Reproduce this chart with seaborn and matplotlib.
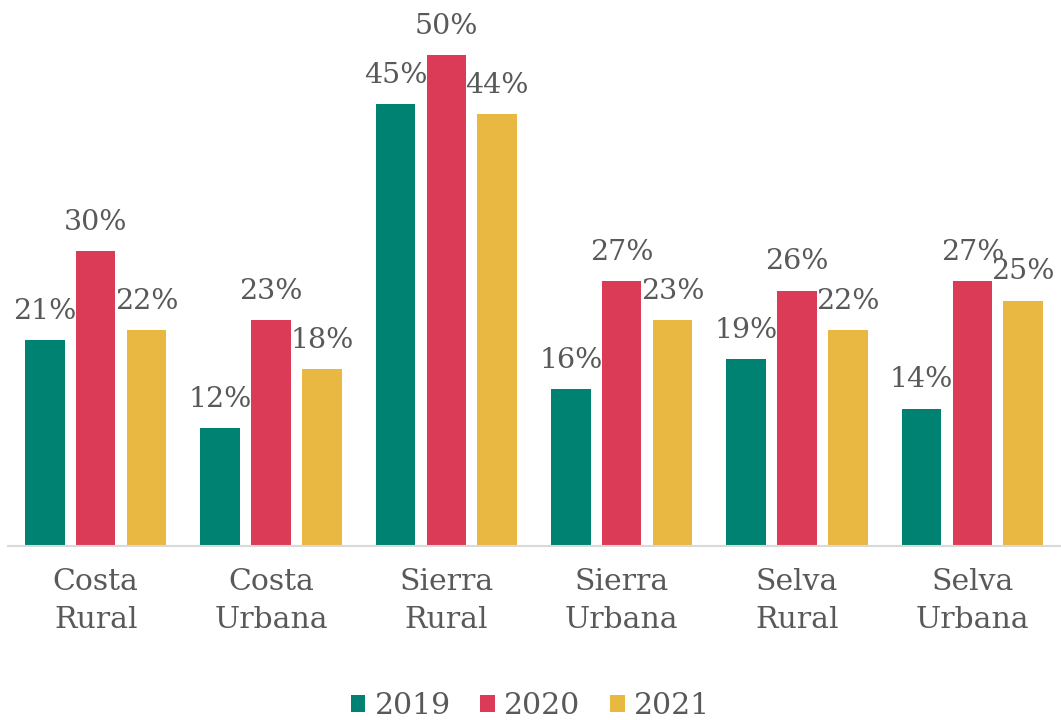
import matplotlib
matplotlib.use("Agg")
import matplotlib.pyplot as plt
import seaborn as sns
import pandas as pd
from matplotlib.patches import Patch

categories = ["Costa\nRural", "Costa\nUrbana", "Sierra\nRural", "Sierra\nUrbana", "Selva\nRural", "Selva\nUrbana"]
years = ["2019", "2020", "2021"]
v2019 = [0.21, 0.12, 0.45, 0.16, 0.19, 0.14]
v2020 = [0.30, 0.23, 0.50, 0.27, 0.26, 0.27]
v2021 = [0.22, 0.18, 0.44, 0.23, 0.22, 0.25]
colors = ["#008272", "#DC3B58", "#E8B843"]

rows = []
for yr, vals in zip(years, [v2019, v2020, v2021]):
    for c, v in zip(categories, vals):
        rows.append({"cat": c, "year": yr, "val": v})
df = pd.DataFrame(rows)

sns.set_theme(style="white")
plt.rcParams['font.family'] = ['DejaVu Serif']
text_color = "#595959"

fig = plt.figure(figsize=(10.61, 7.2), dpi=100)
ax = fig.add_axes([8/1061, 1-546/720, 1052/1061, 540/720])

sns.barplot(data=df, x="cat", y="val", hue="year", palette=colors,
            width=0.87, gap=0.22, ax=ax, legend=False, saturation=1,
            edgecolor="none")

ax.set_ylim(0, 0.55)
ax.set_xlim(-0.5, 5.5)
for cont in ax.containers:
    ax.bar_label(cont, labels=[f"{v*100:.0f}%" for v in cont.datavalues],
                 padding=11, fontsize=20.5, color=text_color)

ax.set_xlabel("")
ax.set_ylabel("")
ax.set_yticks([])
ax.tick_params(axis="x", length=0, pad=16, labelsize=21.5, labelcolor=text_color)
for lab in ax.get_xticklabels():
    lab.set_linespacing(1.45)
for s in ["top", "left", "right"]:
    ax.spines[s].set_visible(False)
ax.spines["bottom"].set_color("#D9D9D9")
ax.spines["bottom"].set_linewidth(1.5)

handles = [Patch(facecolor=c, edgecolor="none", label=y) for c, y in zip(colors, years)]
leg = fig.legend(handles=handles, loc="center", bbox_to_anchor=(0.5, 1-706/720),
                 ncol=3, frameon=False, fontsize=21.5, handlelength=0.5, handleheight=0.5,
                 handletextpad=0.3, columnspacing=1.0)
for t in leg.get_texts():
    t.set_color(text_color)

fig.savefig("out.png", dpi=100)
